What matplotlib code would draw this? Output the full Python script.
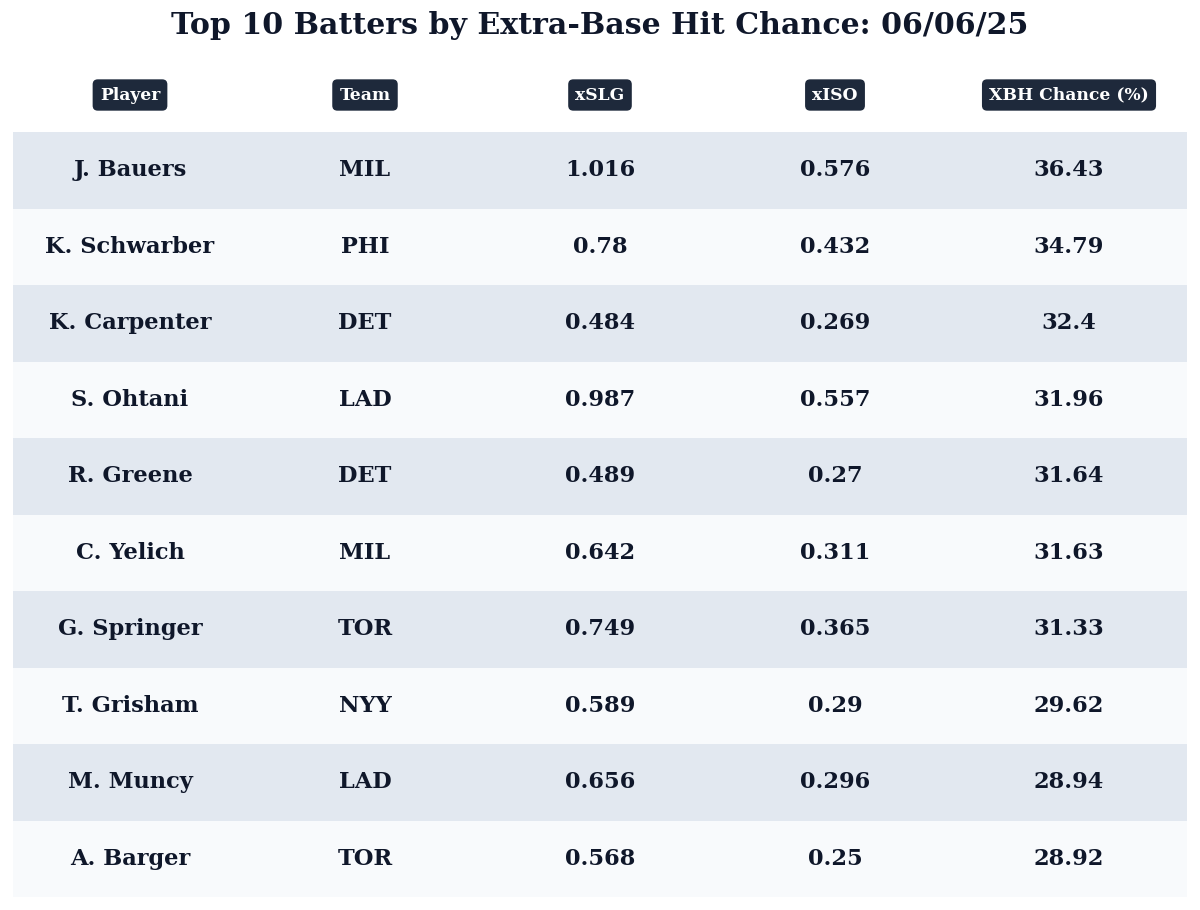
import matplotlib
matplotlib.use("Agg")
import matplotlib.pyplot as plt
from matplotlib.patches import Rectangle

# data
players = ["J. Bauers", "K. Schwarber", "K. Carpenter", "S. Ohtani", "R. Greene",
           "C. Yelich", "G. Springer", "T. Grisham", "M. Muncy", "A. Barger"]
teams = ["MIL", "PHI", "DET", "LAD", "DET", "MIL", "TOR", "NYY", "LAD", "TOR"]
xslg = ["1.016", "0.78", "0.484", "0.987", "0.489", "0.642", "0.749", "0.589", "0.656", "0.568"]
xiso = ["0.576", "0.432", "0.269", "0.557", "0.27", "0.311", "0.365", "0.29", "0.296", "0.25"]
xbh = ["36.43", "34.79", "32.4", "31.96", "31.64", "31.63", "31.33", "29.62", "28.94", "28.92"]
headers = ["Player", "Team", "xSLG", "xISO", "XBH Chance (%)"]

plt.rcParams['font.family'] = 'DejaVu Serif'
fig = plt.figure(figsize=(12, 9.1), dpi=100)
ax = fig.add_axes([0, 0, 1, 1])
ax.set_xlim(0, 1200)
ax.set_ylim(910, 0)
ax.axis("off")

col_x = [130, 365, 600, 835, 1069]
row_top = 132
row_h = 76.5
dark = "#1e293b"

fig.text(0.5, 1 - 25 / 910, "Top 10 Batters by Extra-Base Hit Chance: 06/06/25",
         ha="center", va="center", fontsize=21.6, fontweight="bold", color="#0f172a")

for x, h in zip(col_x, headers):
    ax.text(x, 95, h, ha="center", va="center", fontsize=12.3, fontweight="bold", color="white",
            bbox=dict(boxstyle="round,pad=0.42,rounding_size=0.3", fc=dark, ec="none"))

columns = [players, teams, xslg, xiso, xbh]
for i in range(len(players)):
    y0 = row_top + i * row_h
    fc = "#e2e8f0" if i % 2 == 0 else "#f8fafc"
    ax.add_patch(Rectangle((13, y0), 1174, row_h, fc=fc, ec="none"))
    for x, col in zip(col_x, columns):
        ax.text(x, y0 + row_h / 2, col[i], ha="center", va="center",
                fontsize=16.2, fontweight="bold", color="#0f172a")

fig.savefig("out.png", dpi=100, facecolor="white")
